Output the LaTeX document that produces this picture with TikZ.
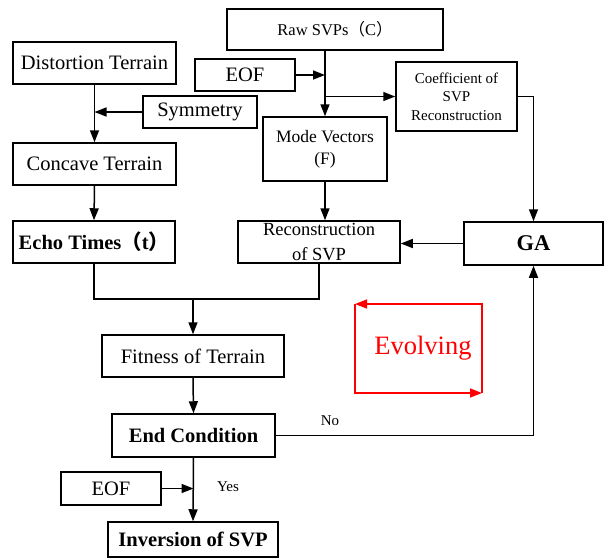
\documentclass[tikz,border=0pt]{standalone}
\usepackage{fontspec}
\setmainfont{Liberation Serif}
\newfontfamily\cjk{Noto Sans CJK SC}
\usetikzlibrary{arrows.meta,calc}
\definecolor{evored}{RGB}{255,0,0}
\begin{document}
\begin{tikzpicture}[x=1pt,y=-1pt,
  box/.style={draw=black,line width=1.5pt,rectangle,inner sep=0pt,align=center,font=\fontsize{20.5}{24}\selectfont},
  arr/.style={line width=1.5pt,-{Triangle[length=12pt,width=9pt]}},
  ln/.style={line width=1.5pt},
  lbl/.style={inner sep=0pt,font=\fontsize{15}{18}\selectfont}]
\useasboundingbox (0,0) rectangle (605,558);
\node[box,minimum width=216pt,minimum height=41pt,font=\fontsize{16.5}{19}\selectfont] (raw) at (335,29.5) {Raw SVPs{\cjk （}C{\cjk ）}};
\node[box,minimum width=163pt,minimum height=42pt] (dist) at (94.5,63) {Distortion Terrain};
\node[box,minimum width=100pt,minimum height=32pt] (eof1) at (245,75) {EOF};
\node[box,minimum width=121pt,minimum height=69pt,font=\fontsize{15}{18.3}\selectfont] (coef) at (456.5,96.5) {Coefficient of\\SVP\\Reconstruction};
\node[box,minimum width=114pt,minimum height=32pt] (sym) at (200,112) {Symmetry};
\node[box,minimum width=124pt,minimum height=64pt,font=\fontsize{17.5}{21.7}\selectfont] (mode) at (325,149) {Mode Vectors\\(F)};
\node[box,minimum width=163pt,minimum height=42pt] (conc) at (94.5,164) {Concave Terrain};
\node[box,minimum width=162pt,minimum height=42pt,font=\fontsize{20.5}{24}\selectfont\bfseries] (echo) at (94,242) {Echo Times{\cjk\bfseries （}t{\cjk\bfseries ）}};
\node[box,minimum width=162pt,minimum height=42pt,font=\fontsize{18.5}{24.5}\selectfont] (recon) at (319,242) {Reconstruction\\of SVP};
\node[box,minimum width=139pt,minimum height=43pt,font=\fontsize{22.5}{26}\selectfont\bfseries] (ga) at (533.5,243.5) {GA};
\node[box,minimum width=182pt,minimum height=42pt] (fit) at (193,356) {Fitness of Terrain};
\node[box,minimum width=163pt,minimum height=43pt,font=\fontsize{20.5}{24}\selectfont\bfseries] (endc) at (193.5,435.5) {End Condition};
\node[box,minimum width=100pt,minimum height=33pt] (eof2) at (111,488.5) {EOF};
\node[box,minimum width=170pt,minimum height=35pt,font=\fontsize{20.5}{24}\selectfont\bfseries] (inv) at (193,539.5) {Inversion of SVP};
% connectors
\draw[arr] (mode.north |- raw.south) -- (mode.north);
\draw[arr] (eof1.east) -- (eof1.east -| mode.north);
\draw[arr] (mode.north |- coef.west) -- (coef.west);
\draw[arr] (coef.east) -| (ga.north);
\draw[arr] (ga.west) -- (ga.west -| recon.east);
\draw[arr] (mode.south) -- (mode.south |- recon.north);
\draw[arr] (dist.south) -- (conc.north);
\draw[arr] (sym.west) -- (sym.west -| dist.south);
\draw[arr] (conc.south) -- (echo.north);
\coordinate (j) at (193,299);
\draw[ln] (echo.south) |- (j) -| (recon.south);
\draw[arr] (j) -- (fit.north);
\draw[arr] (fit.south) -- (endc.north);
\draw[arr] (endc.south) -- (inv.north);
\draw[arr] (eof2.east) -- (eof2.east -| endc.south);
\draw[arr] (endc.east) -| (ga.south);
\node[lbl] (no) at (330,421) {No};
\node[lbl] (yes) at (228,487) {Yes};
% evolving loop
\coordinate (etl) at (355,304);
\coordinate (etr) at (482,304);
\coordinate (ebl) at (355,393);
\coordinate (ebr) at (482,393);
\draw[arr,draw=evored,line width=1.5pt] (ebr) -- (etr) -- (etl);
\draw[arr,draw=evored,line width=1.5pt] (etl) -- (ebl) -- (ebr);
\node[inner sep=0pt,text=evored,font=\fontsize{26.5}{30}\selectfont] (evo) at (423,348) {Evolving};
\end{tikzpicture}
\end{document}
